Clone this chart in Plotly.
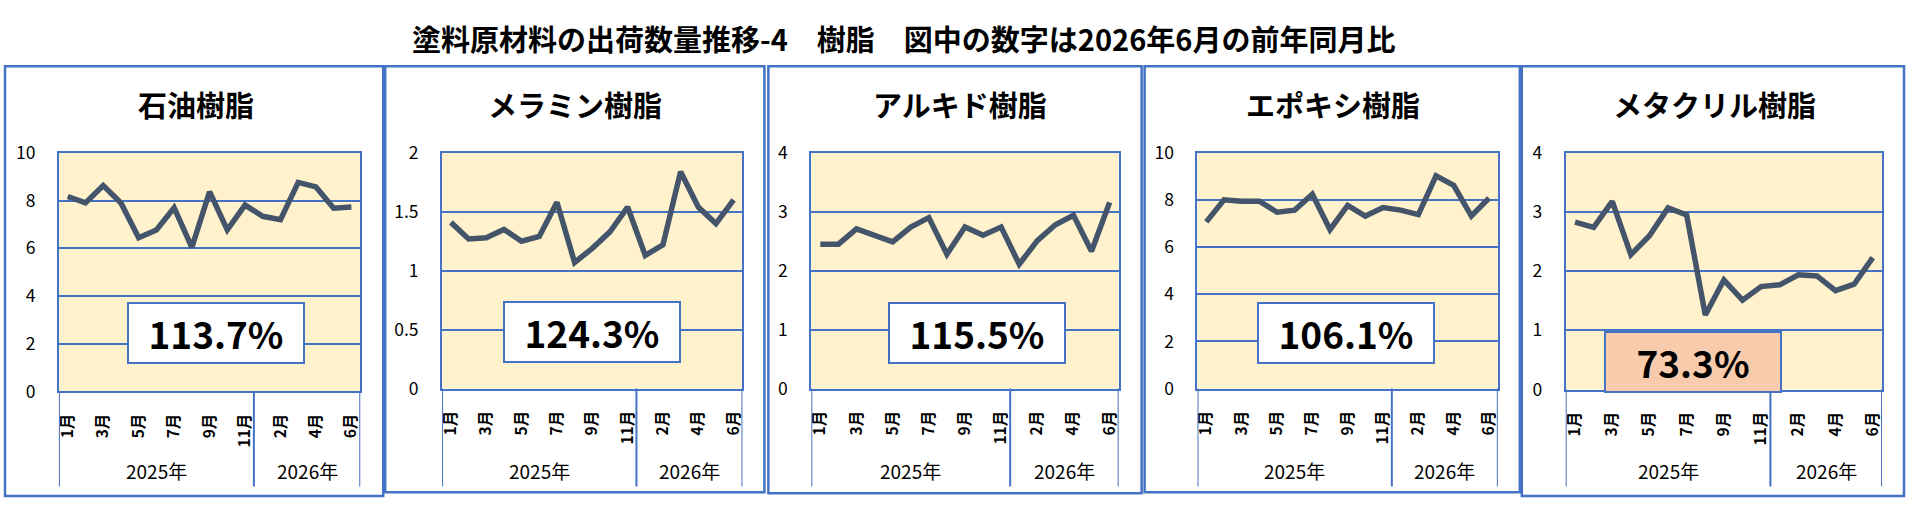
import plotly.graph_objects as go

# 軸ラベル
months_2025 = ["1月", "2月", "3月", "4月", "5月", "6月", "7月", "8月", "9月", "10月", "11月"]
months_2026 = ["1月", "2月", "3月", "4月", "5月", "6月"]
years = ["2025年", "2026年"]

# 出荷数量（万トン）
sekiyu = [8.17, 7.90, 8.63, 7.90, 6.44, 6.77, 7.70, 6.04, 8.37, 6.77, 7.81, 7.34, 7.20, 8.76, 8.57, 7.68, 7.73]
melamine = [1.41, 1.27, 1.28, 1.35, 1.25, 1.29, 1.58, 1.07, 1.19, 1.33, 1.54, 1.13, 1.22, 1.84, 1.54, 1.40, 1.60]
alkyd = [2.45, 2.45, 2.71, 2.59, 2.49, 2.74, 2.90, 2.28, 2.74, 2.60, 2.74, 2.11, 2.51, 2.78, 2.94, 2.33, 3.16]
epoxy = [7.07, 8.01, 7.95, 7.95, 7.48, 7.57, 8.24, 6.74, 7.77, 7.32, 7.68, 7.57, 7.38, 9.02, 8.62, 7.32, 8.08]
methacryl = [2.83, 2.74, 3.18, 2.28, 2.60, 3.07, 2.95, 1.26, 1.85, 1.51, 1.74, 1.77, 1.94, 1.92, 1.67, 1.78, 2.23]

names = ["石油樹脂", "メラミン樹脂", "アルキド樹脂", "エポキシ樹脂", "メタクリル樹脂"]
series = [sekiyu, melamine, alkyd, epoxy, methacryl]
yoy = [113.7, 124.3, 115.5, 106.1, 73.3]
y_max = [10, 2, 4, 10, 4]
y_step = [2, 0.5, 1, 2, 1]

W, H = 1906, 508
BLUE = "#4472C4"
FONT = "Noto Sans CJK JP"

# パネル配置（ピクセル）: 外枠, プロット領域, タイトル中心, 数字ボックス
frames = [(1, 55, 380, 507), (382, 55, 762, 503), (766, 55, 1140, 504),
          (1143, 55, 1519, 503), (1521, 55, 1904, 507)]
plots = [(55, 146, 357, 397), (439, 146, 740, 394), (809, 146, 1117, 394),
         (1196, 146, 1497, 394), (1565, 146, 1882, 395)]
title_x = [192, 572, 958, 1332, 1714]
box_pos = [(0.52, 0.245), (0.50, 0.238), (0.54, 0.235), (0.495, 0.235), (0.402, 0.118)]

n25 = len(months_2025)
months = months_2025 + months_2026
xs = list(range(len(months)))

fig = go.Figure()
annotations = []
shapes = []

for i, (name, vals) in enumerate(zip(names, series)):
    k = "" if i == 0 else str(i + 1)
    x0, y0, x1, y1 = plots[i]
    fig.add_trace(go.Scatter(x=xs, y=vals, mode="lines", xaxis="x" + k, yaxis="y" + k,
                             line=dict(color="#44546A", width=5.5), showlegend=False,
                             hoverinfo="y"))
    fig.update_layout(**{
        "xaxis" + k: dict(domain=[x0 / W, x1 / W], anchor="y" + k, range=[-0.5, len(months) - 0.5],
                          tickmode="array", tickvals=xs[::2],
                          ticktext=["<b>" + m + "</b>" for m in months[::2]], tickangle=-90,
                          showgrid=False, zeroline=False, showline=True, mirror=True,
                          linecolor=BLUE, linewidth=2, ticks="", ticklabelstandoff=14,
                          tickfont=dict(family=FONT, size=15.5, color="black"), fixedrange=True),
        "yaxis" + k: dict(domain=[1 - y1 / H, 1 - y0 / H], anchor="x" + k, range=[0, y_max[i]],
                          dtick=y_step[i], showgrid=True, gridcolor=BLUE, gridwidth=2,
                          zeroline=False, showline=True, mirror=True, linecolor=BLUE, linewidth=2,
                          ticks="", ticklabelstandoff=18,
                          tickfont=dict(family=FONT, size=17.5, color="black"), fixedrange=True),
    })

    # 外枠
    fx0, fy0, fx1, fy1 = frames[i]
    shapes.append(dict(type="rect", xref="paper", yref="paper", x0=fx0 / W, x1=fx1 / W,
                       y0=1 - fy1 / H, y1=1 - fy0 / H, line=dict(color=BLUE, width=2.5), layer="below"))
    # 年区切り線
    for xv in [-0.5, n25 - 0.5, len(months) - 0.5]:
        shapes.append(dict(type="line", xref="x" + k, yref="paper", x0=xv, x1=xv,
                           y0=1 - y1 / H, y1=1 - 497 / H, line=dict(color=BLUE, width=2)))
    # 年ラベル
    for yr, xc in zip(years, [(n25 - 1) / 2, n25 + (len(months_2026) - 1) / 2]):
        annotations.append(dict(text=yr, xref="x" + k, yref="paper", x=xc, y=1 - 480 / H,
                                xanchor="center", yanchor="middle", showarrow=False,
                                font=dict(family=FONT, size=19, color="black")))
    # パネルタイトル
    annotations.append(dict(text="<b>" + name + "</b>", xref="paper", yref="paper",
                            x=title_x[i] / W, y=1 - 95 / H, xanchor="center", yanchor="middle",
                            showarrow=False, font=dict(family=FONT, size=29, color="black")))
    # 前年同月比
    bx, by = box_pos[i]
    annotations.append(dict(text="<b>%.1f%%</b>" % yoy[i], xref="x%s domain" % k, yref="y%s domain" % k,
                            x=bx, y=by, xanchor="center", yanchor="middle", showarrow=False,
                            width=172, height=56, borderpad=1,
                            bgcolor="#F8CBAD" if yoy[i] < 100 else "white",
                            bordercolor=BLUE, borderwidth=2,
                            font=dict(family=FONT, size=37, color="black")))

annotations.append(dict(text="<b>塗料原材料の出荷数量推移-4　樹脂　図中の数字は2026年6月の前年同月比</b>",
                        xref="paper", yref="paper", x=901 / W, y=1 - 25 / H,
                        xanchor="center", yanchor="middle", showarrow=False,
                        font=dict(family=FONT, size=29, color="black")))

fig.update_layout(width=W, height=H, margin=dict(l=0, r=0, t=0, b=0),
                  paper_bgcolor="white", plot_bgcolor="#FFF2CC",
                  annotations=annotations, shapes=shapes)

fig.write_html("out.html", config={"displayModeBar": False},
               post_script="document.body.style.margin='0';document.body.style.overflow='hidden';")
